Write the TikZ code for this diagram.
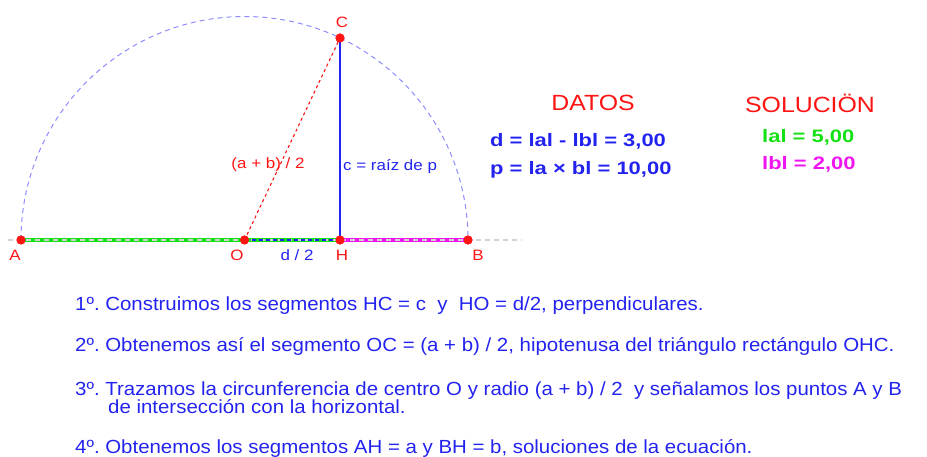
\documentclass[tikz,border=0pt]{standalone}
\usepackage{fontspec}
\setmainfont{Liberation Sans}
\newfontfamily\anchofont{Liberation Sans}[FakeStretch=1.13]
\newfontfamily\pasofont{Liberation Sans}[FakeStretch=1.075]
\newfontfamily\datofont{Liberation Sans}[FakeStretch=1.22]
\usetikzlibrary{positioning}
\definecolor{ptred}{RGB}{255,20,20}
\definecolor{txtblue}{RGB}{35,35,240}
\definecolor{circblue}{RGB}{140,140,255}
\definecolor{solgreen}{RGB}{20,225,20}
\definecolor{solmag}{RGB}{240,20,240}
\frenchspacing

\begin{document}
\begin{tikzpicture}[
    x=1pt, y=1pt,
    punto/.style={circle, fill=ptred, minimum size=9pt, inner sep=0pt},
    etiq/.style={text=ptred, font=\anchofont\fontsize{15}{15}\selectfont, inner sep=0pt},
    paso/.style={anchor=base west, text=txtblue, inner sep=0pt,
      font=\pasofont\fontsize{19}{19}\selectfont},
    dato/.style={anchor=base west, inner sep=0pt, font=\datofont\bfseries\fontsize{18}{18}\selectfont},
    titulo/.style={text=ptred, inner sep=0pt, font=\anchofont\fontsize{22}{22}\selectfont}
  ]
  \useasboundingbox (0,0) rectangle (927,-457);
  % puntos de la construccion
  \node[punto] (A) at (21,-240) {};
  \node[punto] (O) at (244.5,-240) {};
  \node[punto] (H) at (340,-240) {};
  \node[punto] (B) at (468,-240) {};
  \node[punto] (C) at (340,-38) {};
  \coordinate (izq) at (8,-240);
  \coordinate (der) at (522,-240);

  % segmentos
  \draw[line width=3.5pt, solgreen] (A.center) -- (H.center);
  \draw[line width=3.5pt, solmag] (H.center) -- (B.center);
  \draw[gray!35, line width=1.2pt, dash pattern=on 5pt off 4pt] (izq) -- (der);
  \draw[txtblue, dash pattern=on 4pt off 3pt, line width=1.2pt] (O.center) -- (H.center);
  \draw[circblue, line width=1pt, dash pattern=on 5pt off 4pt] (A.center) arc[start angle=180, end angle=0, radius=223.5];
  \draw[ptred, dash pattern=on 3pt off 3pt, line width=1.1pt] (O.center) -- (C.center);
  \draw[txtblue, line width=1.2pt] (H.center) -- (C.center);
  \foreach \p in {A,O,H,B,C} \node[punto] at (\p) {};

  % etiquetas
  \node[etiq] (labA) at (15,-255) {A};
  \node[etiq] (labO) at (237,-255) {O};
  \node[etiq] (labH) at (342,-255) {H};
  \node[etiq] (labB) at (478,-255) {B};
  \node[etiq] (labC) at (342,-22) {C};
  \node[etiq, text=txtblue] (dmedios) at (297,-255) {d / 2};
  \node[etiq] (hipo) at (268,-165) {(a + b) / 2};
  \node[etiq, text=txtblue, anchor=west] (raiz) at (343,-167) {c = raíz de p};

  % datos y solucion
  \node[titulo] (datos) at (593,-103) {DATOS};
  \node[titulo] (solucion) at (810,-103) {SOLUCIÖN};
  \node[dato, text=txtblue] (dd) at (490,-147) {d = lal - lbl = 3,00};
  \node[dato, text=txtblue] (pp) at (490,-175) {p = la × bl = 10,00};
  \node[dato, text=solgreen] (aa) at (762,-143) {lal = 5,00};
  \node[dato, text=solmag] (bb) at (762,-170) {lbl = 2,00};

  % pasos
  \node[paso] (paso1) at (75,-311) {1º. Construimos los segmentos HC = c~ y~ HO = d/2, perpendiculares.};
  \node[paso] (paso2) at (75,-352) {2º. Obtenemos así el segmento OC = (a + b) / 2, hipotenusa del triángulo rectángulo OHC.};
  \node[paso] (paso3) at (75,-395) {3º. Trazamos la circunferencia de centro O y radio (a + b) / 2~ y señalamos los puntos A y B};
  \node[paso] (paso3b) at (108,-413) {de intersección con la horizontal.};
  \node[paso] (paso4) at (75,-453) {4º. Obtenemos los segmentos AH = a y BH = b, soluciones de la ecuación.};
\end{tikzpicture}
\end{document}
